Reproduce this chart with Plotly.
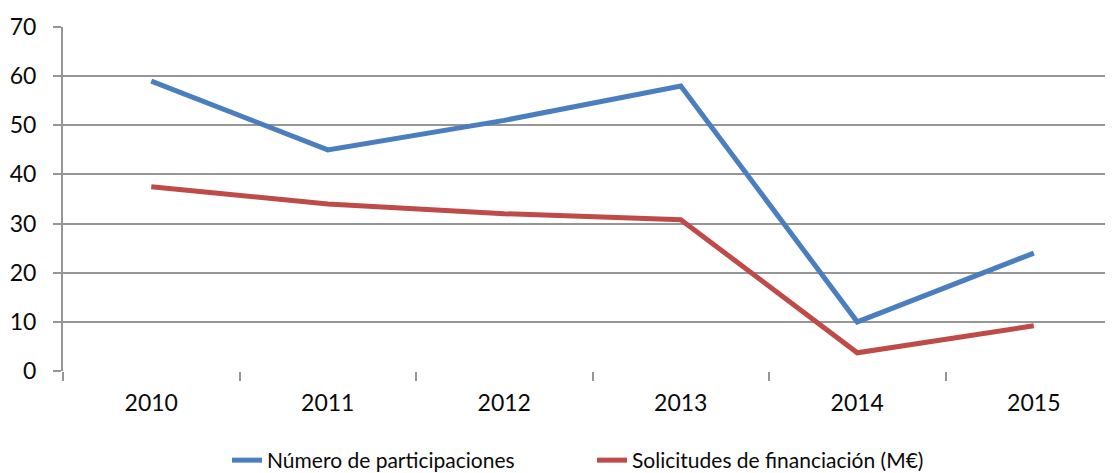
import plotly.graph_objects as go

years = ["2010", "2011", "2012", "2013", "2014", "2015"]
participaciones = [59, 45, 51, 58, 10, 24]
solicitudes = [37.5, 34, 32, 30.8, 3.7, 9.2]
y_ticks = [0, 10, 20, 30, 40, 50, 60, 70]

FONT = "Lato"
GRID = "#969696"

fig = go.Figure()
fig.add_trace(go.Scatter(x=years, y=participaciones, mode="lines",
                         name="Número de participaciones",
                         line=dict(color="#4A7EBE", width=5)))
fig.add_trace(go.Scatter(x=years, y=solicitudes, mode="lines",
                         name="Solicitudes de financiación (M€)",
                         line=dict(color="#BE4B48", width=5)))

fig.update_layout(
    width=1113, height=473,
    margin=dict(l=55, r=0, t=19, b=108),
    plot_bgcolor="white", paper_bgcolor="white",
    font=dict(family=FONT, size=23, color="#0a0a0a"),
    showlegend=True,
    legend=dict(orientation="h", x=0.5, xanchor="center", y=-0.262, yanchor="middle",
                font=dict(family=FONT, size=21, color="#0a0a0a"),
                bgcolor="rgba(0,0,0,0)", entrywidth=320, tracegroupgap=0),
)
fig.update_xaxes(type="category", range=[-0.5, 5.494], tickson="boundaries",
                 ticks="outside", ticklen=9, tickcolor=GRID, tickwidth=2,
                 showgrid=False, showline=False, zeroline=False, automargin=False,
                 ticklabelstandoff=16,
                 tickfont=dict(family=FONT, size=23))
fig.update_yaxes(range=[0, 70], tickvals=y_ticks, showgrid=True, gridcolor=GRID, gridwidth=2,
                 ticks="outside", ticklen=8, tickcolor=GRID, tickwidth=2,
                 showline=True, linecolor=GRID, linewidth=2, zeroline=False, automargin=False,
                 ticklabelstandoff=12,
                 tickfont=dict(family=FONT, size=23))

fig.write_html("out.html")
